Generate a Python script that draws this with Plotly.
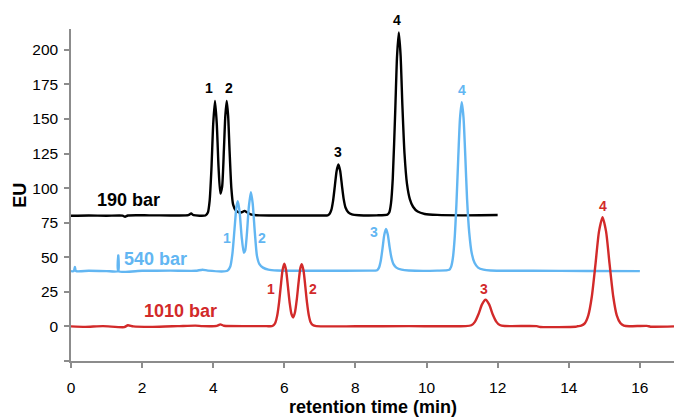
import plotly.graph_objects as go

# ---- data ----
t_190 = [0, 0.5, 1.0, 1.45, 1.52, 1.6, 2.2, 2.8, 3.3, 3.38, 3.45, 3.78, 3.85, 3.9, 3.95, 4.0, 4.05,
         4.1, 4.15, 4.2, 4.25, 4.3, 4.34, 4.38, 4.42, 4.46, 4.51, 4.56, 4.63, 4.72, 4.8, 4.88, 4.95,
         5.05, 5.3, 6.0, 7.0, 7.22, 7.27, 7.32, 7.37, 7.42, 7.47, 7.52, 7.57, 7.62, 7.67, 7.72, 7.8,
         7.9, 8.1, 8.6, 8.9, 8.95, 9.0, 9.05, 9.12, 9.17, 9.22, 9.27, 9.32, 9.38, 9.45, 9.53, 9.62,
         9.75, 9.95, 10.3, 11.0, 12.0]
eu_190 = [80, 80.2, 80, 80.1, 79.3, 80.2, 80.3, 80.2, 80.4, 81.6, 80.4, 80.2, 82.4, 91, 114, 146.5, 163,
          146.6, 115, 96, 101, 127.3, 152, 163, 152, 127, 100, 88, 84, 82.5, 82.5, 83.5, 82.5,
          81, 80.3, 80.2, 80.2, 80.3, 81.2, 84, 90.6, 101.3, 112.2, 117, 112.5, 102, 92, 86, 82.5,
          81, 80.4, 80.3, 80.8, 82.3, 89, 106.8, 156, 195, 212.5, 196, 160, 125, 103, 92, 86.5,
          83, 81.3, 80.6, 80.3, 80.5]

t_540 = [0, 0.08, 0.11, 0.14, 0.5, 1.0, 1.325, 1.33, 1.335, 2.0, 2.8, 3.5, 3.7, 3.85, 4.4, 4.48, 4.54,
         4.6, 4.65, 4.69, 4.74, 4.8, 4.86, 4.9, 4.95, 5.0, 5.06, 5.11, 5.17, 5.23, 5.3, 5.4, 5.55,
         5.8, 7.0, 8.4, 8.61, 8.66, 8.71, 8.76, 8.81, 8.86, 8.91, 8.96, 9.01, 9.07, 9.15, 9.3, 9.5,
         10.3, 10.64, 10.69, 10.74, 10.79, 10.84, 10.89, 10.94, 10.99, 11.04, 11.09, 11.14, 11.2,
         11.27, 11.35, 11.45, 11.6, 11.8, 13.0, 14.5, 16.0]
eu_540 = [40, 40, 43, 40, 40.2, 40, 40, 51.3, 40, 40.2, 40.3, 40.2, 41, 40.3, 40.2, 43.3, 52.6,
          70.6, 85.8, 90.5, 83.4, 64.8, 53.3, 55, 67.8, 85.9, 97, 88.9, 68, 51, 45, 42.5, 41,
          40.4, 40.2, 40.3, 40.6, 42.3, 47.1, 56, 66, 70.5, 66.5, 57.5, 50, 45, 42.5, 41, 40.4,
          40.3, 40.9, 43, 49.3, 63.4, 88.2, 120.7, 150, 162, 151, 123, 92, 68,
          53, 46, 42.5, 41, 40.4, 40.2, 40.1, 40]

t_1010 = [0, 0.4, 0.9, 1.5, 1.6, 1.75, 2.3, 3.0, 3.5, 3.7, 4.1, 4.2, 4.3, 5.0, 5.5, 5.65, 5.7, 5.75,
          5.8, 5.85, 5.9, 5.95, 6.0, 6.05, 6.1, 6.15, 6.2, 6.25, 6.3, 6.35, 6.4, 6.45, 6.49, 6.54,
          6.59, 6.64, 6.69, 6.74, 6.8, 6.9, 8.0, 9.5, 11.1, 11.26, 11.36, 11.46, 11.56, 11.66, 11.76,
          11.86, 11.96, 12.06, 12.2, 13.1, 13.2, 14.2, 14.25, 14.35, 14.45, 14.55, 14.65, 14.75,
          14.85, 14.95, 15.05, 15.15, 15.25, 15.35, 15.45, 15.55, 15.7, 16.2, 16.3, 16.96]
eu_1010 = [0, -0.3, 0.2, -0.5, 0.8, 0, -0.3, 0.2, 0.6, 0.2, 0.4, 1.5, 0.5, 0.2, 0.2, 0.2, 0.9, 2.9,
           7.8, 16.8, 29.1, 40.6, 45.3, 40.6, 29.1, 17.1, 9.0, 6.5, 10.2, 19.3, 31.6, 42, 45, 40.4,
           29, 16.8, 7.8, 3, 1, 0.2, 0.1, 0.2, 0.2, 0.85, 3.3, 8.8, 15.9, 19.3, 15.9,
           8.8, 3.5, 1.0, 0.3, 0.2, -0.4, -0.2, 0.1, 0.5, 2.2, 8.0, 21.8, 44.6,
           68.5, 79, 68.5, 44.6, 21.8, 8.0, 2.5, 0.6, 0.1, 0.4, -0.2, 0]

series_names = ["190 bar", "540 bar", "1010 bar"]
series_colors = ["#000000", "#62b6f2", "#d22a2a"]

# series name labels (x, y in data units)
name_x = [1.62, 2.39, 3.09]
name_y = [91.7, 48.9, 11.0]

# peak number labels
peak_text = ["1", "2", "3", "4", "1", "2", "3", "4", "1", "2", "3", "4"]
peak_x = [3.88, 4.44, 7.51, 9.17, 4.39, 5.37, 8.52, 11.0, 5.62, 6.8, 11.61, 14.96]
peak_y = [172.6, 172.6, 126, 214.5, 64, 64, 68, 171, 26.7, 26.7, 26.7, 87]
peak_series = [0, 0, 0, 0, 1, 1, 1, 1, 2, 2, 2, 2]

x_ticks = [0, 2, 4, 6, 8, 10, 12, 14, 16]
y_ticks = [-25, 0, 25, 50, 75, 100, 125, 150, 175, 200]
y_ticktext = ["", "0", "25", "50", "75", "100", "125", "150", "175", "200"]

FONT = "Liberation Sans, Arial, sans-serif"

fig = go.Figure()
for t, v, c, n in zip([t_190, t_540, t_1010], [eu_190, eu_540, eu_1010], series_colors, series_names):
    fig.add_trace(go.Scatter(x=t, y=v, mode="lines", name=n,
                             line=dict(color=c, width=2.4, shape="spline", smoothing=0.6)))

annotations = []
for n, x, y, c in zip(series_names, name_x, name_y, series_colors):
    annotations.append(dict(x=x, y=y, xref="x", yref="y", text="<b>%s</b>" % n, showarrow=False,
                            xanchor="center", yanchor="middle",
                            font=dict(family=FONT, size=18, color=c)))
for s, x, y, si in zip(peak_text, peak_x, peak_y, peak_series):
    annotations.append(dict(x=x, y=y, xref="x", yref="y", text="<b>%s</b>" % s, showarrow=False,
                            xanchor="center", yanchor="middle",
                            font=dict(family=FONT, size=14, color=series_colors[si])))
# black "4" sits above the top of the axis range: anchor it at the range top and shift up in pixels
annotations[6]["yshift"] = 10
annotations.append(dict(x=0.5008, y=-0.139, xref="paper", yref="paper", text="<b>retention time (min)</b>",
                        showarrow=False, xanchor="center", yanchor="middle",
                        font=dict(family=FONT, size=18, color="#000")))
annotations.append(dict(x=-0.0846, y=0.501, xref="paper", yref="paper", text="<b>EU</b>", textangle=-90,
                        showarrow=False, xanchor="center", yanchor="middle",
                        font=dict(family=FONT, size=18, color="#000")))

axis_common = dict(showline=True, linecolor="#8c8c8c", linewidth=1.5, ticks="outside", ticklen=5,
                   tickwidth=1.5, tickcolor="#8c8c8c", showgrid=False, zeroline=False,
                   tickfont=dict(family=FONT, size=15.5, color="#000"))

fig.update_layout(
    width=674, height=418,
    margin=dict(l=71, r=0, t=29, b=57),
    paper_bgcolor="white", plot_bgcolor="white",
    showlegend=False,
    xaxis=dict(range=[0, 16.96], tickvals=x_ticks, ticklabelstandoff=7, **axis_common),
    yaxis=dict(range=[-25, 215], tickvals=y_ticks, ticktext=y_ticktext, ticklabelstandoff=3, **axis_common),
    annotations=annotations,
)

fig.write_html("out.html", config={"displayModeBar": False},
               post_script="document.body.style.margin='0';")
